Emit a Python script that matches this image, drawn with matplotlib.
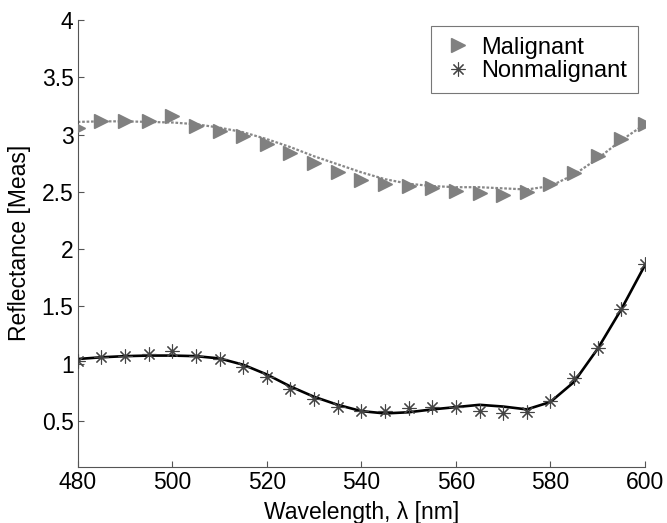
import matplotlib
matplotlib.use("Agg")
import matplotlib.pyplot as plt

wavelength = [480, 485, 490, 495, 500, 505, 510, 515, 520, 525, 530, 535, 540,
              545, 550, 555, 560, 565, 570, 575, 580, 585, 590, 595, 600]

malignant = [3.06, 3.12, 3.12, 3.12, 3.16, 3.07, 3.03, 2.99, 2.92, 2.84, 2.75, 2.67, 2.60,
             2.57, 2.55, 2.53, 2.51, 2.49, 2.47, 2.50, 2.57, 2.66, 2.81, 2.96, 3.09]
malignant_fit = [3.11, 3.115, 3.115, 3.11, 3.105, 3.09, 3.06, 3.02, 2.96, 2.89, 2.81, 2.74, 2.67,
                 2.61, 2.57, 2.55, 2.54, 2.54, 2.53, 2.52, 2.55, 2.65, 2.79, 2.95, 3.09]

nonmalignant = [1.02, 1.06, 1.07, 1.08, 1.11, 1.07, 1.04, 0.97, 0.88, 0.78, 0.69, 0.62, 0.59,
                0.59, 0.61, 0.62, 0.62, 0.59, 0.57, 0.58, 0.67, 0.87, 1.14, 1.48, 1.87]
nonmalignant_fit = [1.04, 1.055, 1.065, 1.07, 1.07, 1.065, 1.045, 0.99, 0.905, 0.80, 0.71, 0.64, 0.585,
                    0.565, 0.575, 0.60, 0.62, 0.64, 0.625, 0.60, 0.665, 0.84, 1.13, 1.475, 1.86]

xticks = [480, 500, 520, 540, 560, 580, 600]
yticks = [0.5, 1, 1.5, 2, 2.5, 3, 3.5, 4]
ytick_labels = ["0.5", "1", "1.5", "2", "2.5", "3", "3.5", "4"]

plt.rcParams['font.family'] = ['Liberation Sans', 'DejaVu Sans']

fig = plt.figure(figsize=(6.67, 5.23), dpi=100)
ax = fig.add_axes([0.1165, 0.1077, 0.8505, 0.8541])

ax.plot(wavelength, malignant_fit, color='#888888', lw=1.6, linestyle=(0, (1.2, 0.8)), zorder=2)
ax.plot(wavelength, malignant, linestyle='none', marker='>', markersize=9.5,
        color='#808080', markeredgecolor='#808080', label='Malignant', zorder=3)

ax.plot(wavelength, nonmalignant_fit, color='black', lw=1.9, zorder=2)
ax.plot(wavelength, nonmalignant, linestyle='none', marker=(8, 2, 0), markersize=10,
        markeredgewidth=0.8, color='#444444', label='Nonmalignant', zorder=3)

ax.set_xlim(480, 600)
ax.set_ylim(0.1, 4)
ax.set_xticks(xticks)
ax.set_yticks(yticks)
ax.set_yticklabels(ytick_labels)

for s in ['top', 'right']:
    ax.spines[s].set_visible(False)
for s in ['left', 'bottom']:
    ax.spines[s].set_color('#555555')
    ax.spines[s].set_linewidth(0.8)
ax.tick_params(direction='in', length=4, width=0.8, color='#555555',
               labelsize=16.5, pad=3)

ax.set_xlabel('Wavelength, λ [nm]', fontsize=16.5)
ax.set_ylabel('Reflectance [Meas]', fontsize=16.5)
ax.xaxis.set_label_coords(0.5, -0.076)
ax.yaxis.set_label_coords(-0.082, 0.5)

leg = ax.legend(loc='upper right', bbox_to_anchor=(0.9877, 0.9866), fontsize=17,
                frameon=True, fancybox=False, edgecolor='#777777', framealpha=1,
                handlelength=1.4, handletextpad=0.3, borderpad=0.45,
                labelspacing=0.08, borderaxespad=0)
leg.get_frame().set_linewidth(0.8)

fig.savefig('out.png', dpi=100)
